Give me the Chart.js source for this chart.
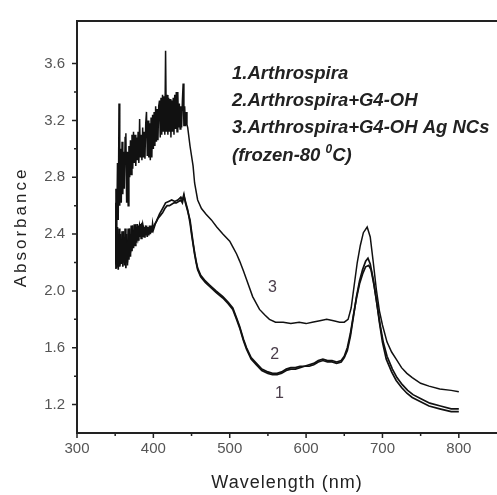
<!DOCTYPE html>
<html>
<head>
<meta charset="utf-8">
<script src="https://cdn.jsdelivr.net/npm/chart.js@4"></script>
<style>
  html, body { margin: 0; padding: 0; background: #fff; }
  #wrap { width: 497px; height: 495px; position: relative; }
</style>
</head>
<body>
<div id="wrap"><canvas id="uvChart"></canvas></div>
<script>
// ticks
const xTicks = [300, 400, 500, 600, 700, 800];
const xMinor = [350, 450, 550, 650, 750];
const yTicks = [1.2, 1.6, 2.0, 2.4, 2.8, 3.2, 3.6];
const yMinor = [1.4, 1.8, 2.2, 2.6, 3.0, 3.4];

// 1. Arthrospira
const wl1 = [350,351,352,353,354,355,356,357,358,359,360,361,362,363,364,365,366,367,368,369,370,371,372,373,374,375,376,377,378,379,380,381,382,383,384,385,386,387,388,389,390,391,392,393,394,395,396,397,398,399,400,403,406,409,412,415,418,421,424,427,430,433,436,438,440,442,445,
  448,450,452,454,456,458,462,468,474,482,491,498,504,509,513,518,522,528,535,542,550,556,562,568,574,580,586,592,598,604,610,616,622,628,634,640,646,650,654,658,662,666,670,674,678,681,684,688,692,696,700,705,712,718,725,732,739,750,761,775,790,800];
const abs1 = [2.16,2.62,2.17,2.45,2.15,2.36,2.18,2.40,2.20,2.36,2.17,2.42,2.20,2.38,2.16,2.34,2.20,2.44,2.22,2.40,2.24,2.46,2.28,2.42,2.30,2.47,2.32,2.45,2.34,2.47,2.36,2.46,2.38,2.47,2.37,2.48,2.38,2.46,2.38,2.45,2.39,2.46,2.38,2.45,2.39,2.46,2.40,2.46,2.41,2.47,2.43,2.48,2.51,2.53,2.55,2.58,2.60,2.60,2.61,2.62,2.62,2.63,2.64,2.62,2.67,2.63,2.57,
  2.48,2.40,2.33,2.26,2.20,2.15,2.10,2.06,2.03,1.99,1.95,1.91,1.87,1.80,1.74,1.65,1.59,1.52,1.48,1.44,1.42,1.41,1.41,1.42,1.44,1.45,1.45,1.46,1.47,1.47,1.48,1.50,1.51,1.50,1.50,1.49,1.50,1.53,1.58,1.68,1.82,1.96,2.07,2.15,2.21,2.23,2.19,2.08,1.94,1.78,1.64,1.52,1.43,1.37,1.32,1.28,1.25,1.22,1.19,1.17,1.15,1.15];

// 2. Arthrospira+G4-OH
const wl2 = [350,351,352,353,354,355,356,357,358,359,360,361,362,363,364,365,366,367,368,369,370,371,372,373,374,375,376,377,378,379,380,382,384,386,388,390,393,396,400,404,408,412,416,420,424,428,432,436,438,440,442,445,
  448,450,452,454,456,458,462,468,474,482,491,498,504,509,513,518,522,528,535,542,550,556,562,568,574,580,586,592,598,604,610,616,622,628,634,640,646,650,654,658,662,666,670,674,678,682,685,689,693,697,701,706,713,719,726,733,740,751,762,776,790,800];
const abs2 = [2.19,2.50,2.16,2.40,2.18,2.44,2.17,2.32,2.19,2.42,2.20,2.34,2.18,2.44,2.21,2.40,2.18,2.36,2.25,2.44,2.27,2.40,2.30,2.46,2.32,2.43,2.35,2.47,2.36,2.44,2.38,2.46,2.40,2.47,2.41,2.45,2.42,2.43,2.45,2.49,2.54,2.58,2.62,2.63,2.64,2.63,2.64,2.66,2.64,2.68,2.62,2.56,
  2.50,2.42,2.34,2.27,2.21,2.16,2.11,2.07,2.04,2.00,1.96,1.92,1.88,1.81,1.75,1.66,1.60,1.53,1.49,1.45,1.43,1.42,1.42,1.43,1.45,1.46,1.46,1.47,1.47,1.48,1.49,1.51,1.52,1.51,1.51,1.50,1.51,1.54,1.60,1.70,1.83,1.95,2.05,2.12,2.17,2.18,2.15,2.04,1.90,1.76,1.64,1.54,1.45,1.39,1.34,1.30,1.27,1.24,1.21,1.19,1.17,1.17];

// 3. Arthrospira+G4-OH Ag NCs (frozen)
const wl3 = [350,351,352,353,354,355,356,357,358,359,360,361,362,363,364,365,366,367,368,369,370,371,372,373,374,375,376,377,378,379,380,381,382,383,384,385,386,387,388,389,390,391,392,393,394,395,396,397,398,399,400,401,402,403,404,405,406,407,408,409,410,411,412,413,414,415,416,417,418,419,420,421,422,423,424,425,426,427,428,429,430,431,432,433,434,435,436,437,438,439,440,441,442,443,444,445,
  448,452,454,458,463,469,476,483,491,500,504,509,513,518,522,530,539,546,552,560,570,580,591,600,608,618,627,636,644,650,655,659,663,667,671,675,680,684,688,692,696,700,706,712,718,725,732,739,750,761,775,790,800];
const abs3 = [2.20,2.72,2.40,2.90,2.50,3.32,2.60,3.00,2.62,3.05,2.68,2.98,2.72,3.08,3.11,2.62,2.98,2.60,3.02,2.80,3.06,2.82,3.10,2.86,3.12,2.90,3.10,2.88,3.08,2.92,3.12,2.90,3.21,2.94,3.10,2.92,3.15,2.94,3.12,2.93,3.18,3.26,2.95,3.20,2.94,3.18,2.92,3.22,2.94,3.24,3.00,3.26,3.02,3.30,3.05,3.28,3.06,3.30,3.34,3.08,3.36,3.10,3.38,3.12,3.37,3.10,3.69,3.12,3.38,3.10,3.36,3.12,3.35,3.08,3.34,3.12,3.36,3.10,3.38,3.14,3.40,3.12,3.40,3.15,3.32,3.14,3.30,3.15,3.34,3.46,3.16,3.30,3.16,3.26,3.17,3.15,
  3.02,2.88,2.76,2.64,2.58,2.54,2.50,2.45,2.40,2.35,2.31,2.26,2.21,2.14,2.08,1.96,1.87,1.83,1.80,1.78,1.78,1.77,1.78,1.77,1.78,1.79,1.80,1.79,1.78,1.78,1.80,1.88,2.04,2.20,2.32,2.41,2.45,2.38,2.20,2.01,1.86,1.76,1.64,1.57,1.52,1.46,1.42,1.39,1.35,1.33,1.31,1.30,1.29];

function toPoints(xs, ys) {
    return xs.map((x, i) => ({ x: x, y: ys[i] }));
}

const tickFont = { family: "Liberation Sans", size: 15 };

// minor/major ticks, top frame line, axis titles, annotations
const decorPlugin = {
    id: "decor",
    afterDraw(chart) {
        const ctx = chart.ctx;
        const area = chart.chartArea;
        const xs = chart.scales.x;
        const ys = chart.scales.y;
        ctx.save();
        ctx.strokeStyle = "#222";
        ctx.lineWidth = 2;
        ctx.beginPath();
        ctx.moveTo(area.left - 1, area.top);
        ctx.lineTo(area.right, area.top);
        ctx.stroke();

        ctx.lineWidth = 1.5;
        ctx.beginPath();
        xTicks.forEach(v => { const p = xs.getPixelForValue(v); ctx.moveTo(p, area.bottom); ctx.lineTo(p, area.bottom + 5); });
        xMinor.forEach(v => { const p = xs.getPixelForValue(v); ctx.moveTo(p, area.bottom); ctx.lineTo(p, area.bottom + 3); });
        yTicks.forEach(v => { const p = ys.getPixelForValue(v); ctx.moveTo(area.left, p); ctx.lineTo(area.left - 5, p); });
        yMinor.forEach(v => { const p = ys.getPixelForValue(v); ctx.moveTo(area.left, p); ctx.lineTo(area.left - 3, p); });
        ctx.stroke();

        // axis titles
        ctx.fillStyle = "#222";
        ctx.textAlign = "center";
        ctx.textBaseline = "middle";
        ctx.font = '18px "Liberation Sans"';
        ctx.letterSpacing = "1px";
        ctx.fillText("Wavelength (nm)", (area.left + area.right) / 2, 483);
        ctx.save();
        ctx.translate(21, (area.top + area.bottom) / 2);
        ctx.rotate(-Math.PI / 2);
        ctx.font = '17px "Liberation Sans"';
        ctx.letterSpacing = "3px";
        ctx.fillText("Absorbance", 0, 0);
        ctx.restore();
        ctx.letterSpacing = "0px";

        // annotation block
        ctx.textAlign = "left";
        ctx.fillStyle = "#222";
        ctx.font = 'italic bold 18.5px "Liberation Sans"';
        ctx.fillText("1.Arthrospira", 232, 74);
        ctx.fillText("2.Arthrospira+G4-OH", 232, 101);
        ctx.fillText("3.Arthrospira+G4-OH Ag NCs", 232, 128);
        const part = "(frozen-80 ";
        ctx.fillText(part, 232, 156);
        let w = ctx.measureText(part).width;
        ctx.font = 'italic bold 12px "Liberation Sans"';
        ctx.fillText("0", 232 + w, 150);
        w += ctx.measureText("0").width;
        ctx.font = 'italic bold 18.5px "Liberation Sans"';
        ctx.fillText("C)", 232 + w, 156);

        // curve numbers
        ctx.font = '16px "Liberation Sans"';
        ctx.fillStyle = "#4a3d4a";
        ctx.textAlign = "center";
        ctx.fillText("3", xs.getPixelForValue(556), ys.getPixelForValue(2.02));
        ctx.fillText("2", xs.getPixelForValue(559), ys.getPixelForValue(1.55));
        ctx.fillText("1", xs.getPixelForValue(565), ys.getPixelForValue(1.28));
        ctx.restore();
    }
};

const ctx = document.getElementById("uvChart").getContext("2d");
new Chart(ctx, {
    type: "line",
    data: {
        datasets: [
            { label: "1", data: toPoints(wl1, abs1), borderColor: "#111", borderWidth: 1.7 },
            { label: "2", data: toPoints(wl2, abs2), borderColor: "#111", borderWidth: 1.7 },
            { label: "3", data: toPoints(wl3, abs3), borderColor: "#111", borderWidth: 1.5 }
        ]
    },
    options: {
        responsive: true,
        maintainAspectRatio: false,
        animation: false,
        devicePixelRatio: 1,
        layout: { padding: { top: 14, right: 0, left: 0, bottom: 0 } },
        elements: { point: { radius: 0 }, line: { tension: 0 } },
        plugins: {
            legend: { display: false },
            tooltip: { enabled: false }
        },
        scales: {
            x: {
                type: "linear",
                min: 300,
                max: 850,
                afterBuildTicks: s => { s.ticks = xTicks.map(v => ({ value: v })); },
                afterFit: s => { s.height = 62; },
                ticks: { font: tickFont, color: "#555", padding: 7, maxRotation: 0, autoSkip: false },
                grid: { drawOnChartArea: false, drawTicks: false },
                border: { color: "#222", width: 2 }
            },
            y: {
                min: 1.0,
                max: 3.9,
                afterBuildTicks: s => { s.ticks = yTicks.map(v => ({ value: v })); },
                afterFit: s => { s.width = 77; },
                ticks: { font: tickFont, color: "#555", padding: 12, callback: v => v.toFixed(1) },
                grid: { drawOnChartArea: false, drawTicks: false },
                border: { color: "#222", width: 2 }
            }
        }
    },
    plugins: [decorPlugin]
});
</script>
</body>
</html>
